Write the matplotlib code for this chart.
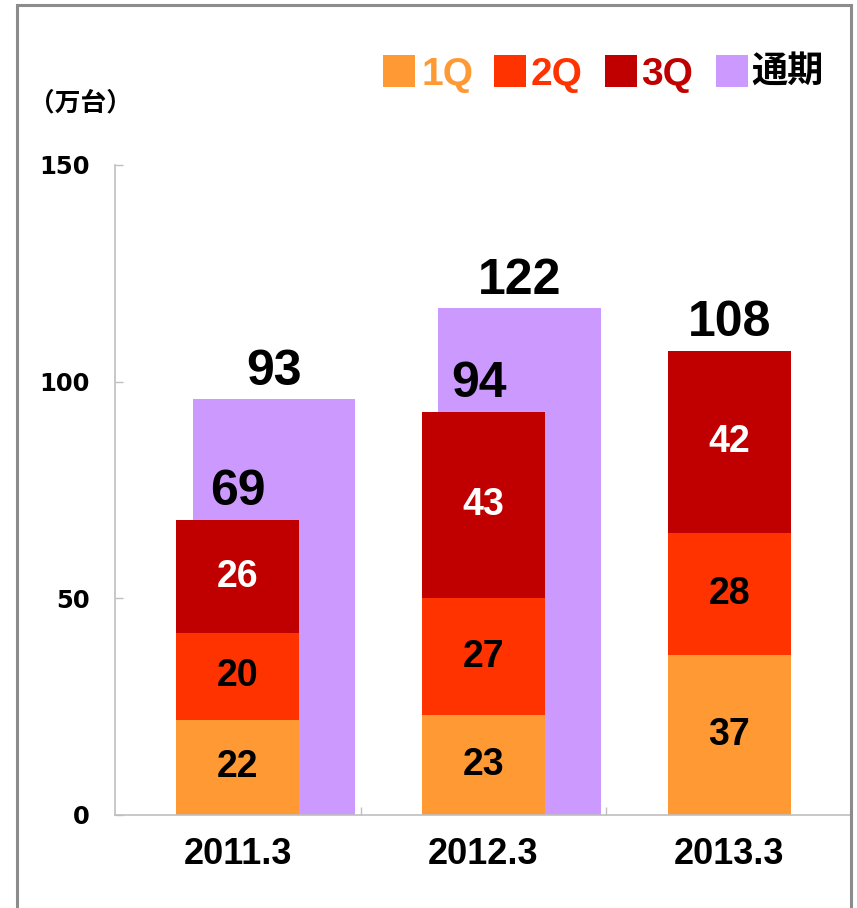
import matplotlib
matplotlib.use("Agg")
import matplotlib.pyplot as plt
from matplotlib import font_manager as fm
from matplotlib.patches import Rectangle
import numpy as np

# ---------------- data ----------------
categories = ["2011.3", "2012.3", "2013.3"]
q1 = [22, 23, 37]
q2 = [20, 27, 28]
q3 = [26, 43, 42]
full_year = [96, 117, np.nan]          # purple bar heights as drawn
cum_labels = ["69", "94", "108"]        # labels above the 3Q stacks
full_labels = ["93", "122", ""]         # labels above the full-year bars
yticks = [0, 50, 100, 150]
legend_names = ["1Q", "2Q", "3Q", "通期"]
unit_label = "（万台）"

c_q1 = "#FF9933"
c_q2 = "#FF3300"
c_q3 = "#C00000"
c_fy = "#CC99FF"

names = {f.name for f in fm.fontManager.ttflist}
NARROW = "Liberation Sans Narrow" if "Liberation Sans Narrow" in names else "Liberation Sans"
ARIAL = "Liberation Sans"
CJK = ["Noto Sans CJK JP", "DejaVu Sans"]

W, H = 857, 908
fig = plt.figure(figsize=(W / 100, H / 100), dpi=100)
ax = fig.add_axes([115 / W, (H - 815) / H, (852 - 115) / W, 650 / H])

x = np.arange(len(categories))
sw = 0.5
fw = 0.663
off = 0.147

# full-year bars behind
for i, v in enumerate(full_year):
    if not np.isnan(v):
        ax.bar(x[i] + off, v, width=fw, color=c_fy, zorder=1, linewidth=0)

b1 = np.array(q1)
b2 = b1 + np.array(q2)
ax.bar(x, q1, width=sw, color=c_q1, zorder=2, linewidth=0)
ax.bar(x, q2, width=sw, bottom=b1, color=c_q2, zorder=2, linewidth=0)
ax.bar(x, q3, width=sw, bottom=b2, color=c_q3, zorder=2, linewidth=0)

lab_fs = 27
for i in range(len(x)):
    ax.text(x[i], q1[i] / 2, str(q1[i]), ha="center", va="center", fontsize=lab_fs,
            fontweight="bold", family=ARIAL, color="black", zorder=5)
    ax.text(x[i], b1[i] + q2[i] / 2, str(q2[i]), ha="center", va="center", fontsize=lab_fs,
            fontweight="bold", family=ARIAL, color="black", zorder=5)
    ax.text(x[i], b2[i] + q3[i] / 2, str(q3[i]), ha="center", va="center", fontsize=lab_fs,
            fontweight="bold", family=ARIAL, color="white", zorder=5)

tot_fs = 36
stack_tops = b2 + np.array(q3)
for i in range(len(x)):
    ax.annotate(cum_labels[i], (x[i] - (0.02 if i == 1 else 0), stack_tops[i]),
                xytext=(0, 11), textcoords="offset points", ha="center", va="baseline",
                fontsize=tot_fs, fontweight="bold", family=ARIAL, color="black", zorder=6)
    if not np.isnan(full_year[i]):
        ax.annotate(full_labels[i], (x[i] + off, full_year[i]),
                    xytext=(0, 10), textcoords="offset points", ha="center", va="baseline",
                    fontsize=tot_fs, fontweight="bold", family=ARIAL, color="black", zorder=6)

ax.set_xlim(-0.5, 2.5)
ax.set_ylim(0, 150)
ax.set_yticks(yticks)
ax.set_yticklabels([str(t) for t in yticks], fontsize=17.5, fontweight="bold", family="DejaVu Sans")
ax.set_xticks(x)
ax.set_xticklabels(categories, fontsize=26, fontweight="bold", family=ARIAL)
ax.set_xticks([0.5, 1.5], minor=True)
ax.tick_params(axis="y", direction="in", length=6, color="#BFBFBF", width=1, pad=18)
ax.tick_params(axis="x", which="major", length=0, pad=16)
ax.tick_params(axis="x", which="minor", direction="in", length=6, color="#BFBFBF", width=1)
for s in ["top", "right"]:
    ax.spines[s].set_visible(False)
for s in ["left", "bottom"]:
    ax.spines[s].set_color("#BFBFBF")
    ax.spines[s].set_linewidth(1.2)

# unit label
fig.text(80 / W, 1 - 103 / H, unit_label, ha="center", va="center", fontsize=18.5,
         fontweight="bold", family=CJK)

# legend (manual)
leg_colors = [c_q1, c_q2, c_q3, c_fy]
txt_colors = [c_q1, c_q2, c_q3, "black"]
sq_x = [383, 494, 605, 716]
tx_x = [421, 531, 641, 751]
for nm, cc, tc, sx, tx in zip(legend_names, leg_colors, txt_colors, sq_x, tx_x):
    fig.patches.append(Rectangle((sx / W, 1 - 87 / H), 32 / W, 32 / H, transform=fig.transFigure,
                                 facecolor=cc, edgecolor="none"))
    if nm == "通期":
        fig.text(tx / W, 1 - 82 / H, nm, ha="left", va="baseline", fontsize=26,
                 fontweight="bold", family=CJK, color=tc)
    else:
        fig.text(tx / W, 1 - 85 / H, nm, ha="left", va="baseline", fontsize=28,
                 fontweight="bold", family=NARROW, color=tc)

# figure frame
fig.patches.append(Rectangle((17.3 / W, -0.05), (851 - 17.3) / W, 1.05 - 5.3 / H,
                             transform=fig.transFigure, facecolor="none",
                             edgecolor="#8C8C8C", linewidth=2.2))

fig.savefig("out.png", dpi=100)
